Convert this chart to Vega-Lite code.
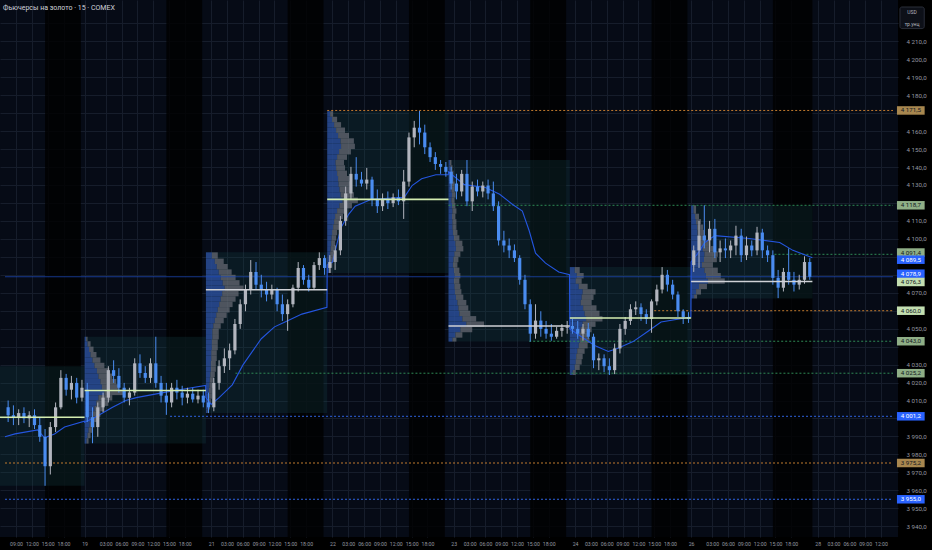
{
"$schema": "https://vega.github.io/schema/vega-lite/v6.json",
"width": 898, "height": 537,
"autosize": {"type": "none"},
"padding": {"left": 0, "top": 0, "right": 34, "bottom": 13},
"background": "#000000",
"config": {"view": {"fill": "#060b16", "stroke": null}, "font": "Roboto", "axis": {"labelOverlap": false, "labelFlush": false}},
"resolve": {"scale": {"color": "independent"}},
"title": {"text": "Фьючерсы на золото · 15 · COMEX", "anchor": "start", "orient": "top", "frame": "group", "offset": -11, "dx": 3, "fontSize": 7, "fontWeight": "normal", "color": "#d1d4dc", "font": "Roboto"},
"datasets": {
"bands": [{"a":-7.5,"b":-0.7},{"a":15.5,"b":22.3},{"a":38.5,"b":45.3},{"a":61.5,"b":68.3},{"a":84.5,"b":91.3},{"a":107.5,"b":114.3},{"a":130.5,"b":138}],
"boxes": [{"s":-23,"e":0,"lo":3962.5,"hi":4029.1},{"s":0,"e":23,"lo":3986.0,"hi":4045.5},{"s":23,"e":46,"lo":4003.0,"hi":4092.5},{"s":46,"e":69,"lo":4081.0,"hi":4171.1},{"s":69,"e":92,"lo":4042.8,"hi":4143.9},{"s":92,"e":115,"lo":4024.2,"hi":4084.3},{"s":115,"e":138,"lo":4066.8,"hi":4118.7}],
"pocs": [{"s":-23,"e":0,"p":4000.7,"k":"g"},{"s":0,"e":23,"p":4015.6,"k":"g"},{"s":23,"e":46,"p":4071.7,"k":"w"},{"s":46,"e":69,"p":4122.0,"k":"g"},{"s":69,"e":92,"p":4051.5,"k":"w"},{"s":92,"e":115,"p":4055.9,"k":"g"},{"s":115,"e":138,"p":4076.3,"k":"w"}],
"levels": [{"a":46,"b":153.28,"p":4171.5,"k":"o"},{"a":69,"b":153.28,"p":4118.7,"k":"g"},{"a":130.8,"b":153.28,"p":4091.4,"k":"g"},{"a":108,"b":153.28,"p":4060.0,"k":"o"},{"a":84.3,"b":153.28,"p":4043.0,"k":"g"},{"a":28.6,"b":153.28,"p":4025.2,"k":"g"},{"a":16.2,"b":153.28,"p":4001.2,"k":"b"},{"a":-15.094,"b":153.28,"p":3975.2,"k":"o"},{"a":-15.094,"b":153.28,"p":3955.0,"k":"b"}],
"tags": [{"p":4171.5,"txt":"4 171,5","k":"o"},{"p":4118.7,"txt":"4 118,7","k":"g"},{"p":4092.4,"txt":"4 091,4","k":"g"},{"p":4088.4,"txt":"4 089,5","k":"b"},{"p":4080.6,"txt":"4 078,9","k":"b"},{"p":4076.0,"txt":"4 076,3","k":"p"},{"p":4060.0,"txt":"4 060,0","k":"p"},{"p":4043.0,"txt":"4 043,0","k":"g"},{"p":4025.2,"txt":"4 025,2","k":"g"},{"p":4001.2,"txt":"4 001,2","k":"b"},{"p":3975.2,"txt":"3 975,2","k":"o"},{"p":3955.0,"txt":"3 955,0","k":"b"}],
"vwap": [
{"u":-15.1,"p":3989.8},{"u":-13.2,"p":3991.4},{"u":-8.9,"p":3993.6},{"u":-7.6,"p":3989.2},{"u":-5.7,"p":3991.4},{"u":-3.8,"p":3995.2},{"u":-0.05,"p":3998.5},
{"u":0,"p":3997.9},{"u":2,"p":4000.7},{"u":5.3,"p":4006.2},{"u":7.8,"p":4010.0},{"u":9.8,"p":4011.6},{"u":14.9,"p":4014.4},{"u":18,"p":4016.0},{"u":22.95,"p":4018.4},
{"u":23,"p":4011.6},{"u":24,"p":4007.8},{"u":25.5,"p":4011.6},{"u":28,"p":4018.7},{"u":30,"p":4029.7},{"u":33.5,"p":4044.4},{"u":36,"p":4051.0},{"u":38,"p":4053.7},{"u":41.2,"p":4058.1},{"u":45.95,"p":4061.9},
{"u":46,"p":4085.4},{"u":47,"p":4087.1},{"u":48.6,"p":4106.2},{"u":50.1,"p":4113.8},{"u":51.3,"p":4118.2},{"u":54.4,"p":4122.0},{"u":57.5,"p":4122.6},{"u":60.6,"p":4123.1},{"u":62.1,"p":4129.7},{"u":63.9,"p":4133.5},{"u":66.6,"p":4135.7},{"u":68.95,"p":4135.7},
{"u":69,"p":4137.3},{"u":72,"p":4130.2},{"u":76,"p":4128.6},{"u":78.7,"p":4124.8},{"u":81.1,"p":4119.3},{"u":83,"p":4115.5},{"u":84.3,"p":4104.5},{"u":85.5,"p":4092.0},{"u":87.4,"p":4086.5},{"u":89.9,"p":4081.6},{"u":91.95,"p":4080.0},
{"u":92,"p":4049.9},{"u":96.7,"p":4040.6},{"u":99.3,"p":4037.3},{"u":101,"p":4039.0},{"u":104,"p":4042.8},{"u":106.7,"p":4048.3},{"u":109.3,"p":4053.7},{"u":114.95,"p":4056.5},
{"u":115,"p":4087.1},{"u":116.3,"p":4092.0},{"u":117.6,"p":4098.0},{"u":119.5,"p":4101.8},{"u":126,"p":4100.2},{"u":131.8,"p":4098.0},{"u":134.3,"p":4093.6},{"u":138,"p":4089.5}],
"prof": [
{"s":0,"lo":3986,"hi":3989,"b":0.38,"g":0.75},{"s":0,"lo":3989,"hi":3992,"b":0.56,"g":1.13},{"s":0,"lo":3992,"hi":3995,"b":0.75,"g":1.5},{"s":0,"lo":3995,"hi":3998,"b":0.94,"g":1.88},{"s":0,"lo":3998,"hi":4001,"b":1.22,"g":2.44},{"s":0,"lo":4001,"hi":4004,"b":1.5,"g":3.0},{"s":0,"lo":4004,"hi":4007,"b":1.88,"g":3.75},{"s":0,"lo":4007,"hi":4010,"b":2.25,"g":4.5},{"s":0,"lo":4010,"hi":4013,"b":2.63,"g":5.25},{"s":0,"lo":4013,"hi":4016,"b":3.75,"g":7.5},{"s":0,"lo":4016,"hi":4019,"b":3.28,"g":6.56},{"s":0,"lo":4019,"hi":4022,"b":3.0,"g":6.0},{"s":0,"lo":4022,"hi":4025,"b":2.63,"g":5.25},{"s":0,"lo":4025,"hi":4028,"b":2.34,"g":4.69},{"s":0,"lo":4028,"hi":4031,"b":1.88,"g":3.75},{"s":0,"lo":4031,"hi":4034,"b":1.5,"g":3.0},{"s":0,"lo":4034,"hi":4037,"b":1.13,"g":2.25},{"s":0,"lo":4037,"hi":4040,"b":0.84,"g":1.69},{"s":0,"lo":4040,"hi":4043,"b":0.56,"g":1.13},{"s":0,"lo":4043,"hi":4045.5,"b":0.28,"g":0.56},
{"s":23,"lo":4003,"hi":4005,"b":23.28,"g":23.56},{"s":23,"lo":4005,"hi":4008,"b":23.38,"g":23.75},{"s":23,"lo":4008,"hi":4011,"b":23.47,"g":23.94},{"s":23,"lo":4011,"hi":4014,"b":23.56,"g":24.13},{"s":23,"lo":4014,"hi":4017,"b":23.56,"g":24.13},{"s":23,"lo":4017,"hi":4020,"b":23.66,"g":24.31},{"s":23,"lo":4020,"hi":4023,"b":23.75,"g":24.5},{"s":23,"lo":4023,"hi":4026,"b":23.84,"g":24.69},{"s":23,"lo":4026,"hi":4029,"b":23.94,"g":24.88},{"s":23,"lo":4029,"hi":4032,"b":23.94,"g":24.88},{"s":23,"lo":4032,"hi":4035,"b":24.03,"g":25.06},{"s":23,"lo":4035,"hi":4038,"b":24.03,"g":25.06},{"s":23,"lo":4038,"hi":4041,"b":24.13,"g":25.25},{"s":23,"lo":4041,"hi":4044,"b":24.13,"g":25.25},{"s":23,"lo":4044,"hi":4047,"b":24.22,"g":25.44},{"s":23,"lo":4047,"hi":4050,"b":24.22,"g":25.44},{"s":23,"lo":4050,"hi":4053,"b":24.41,"g":25.81},{"s":23,"lo":4053,"hi":4056,"b":24.69,"g":26.38},{"s":23,"lo":4056,"hi":4059,"b":24.97,"g":26.94},{"s":23,"lo":4059,"hi":4062,"b":25.25,"g":27.5},{"s":23,"lo":4062,"hi":4065,"b":25.53,"g":28.06},{"s":23,"lo":4065,"hi":4068,"b":25.81,"g":28.63},{"s":23,"lo":4068,"hi":4071,"b":26.09,"g":29.19},{"s":23,"lo":4071,"hi":4074,"b":26.56,"g":30.13},{"s":23,"lo":4074,"hi":4077,"b":26.19,"g":29.38},{"s":23,"lo":4077,"hi":4080,"b":25.81,"g":28.63},{"s":23,"lo":4080,"hi":4083,"b":25.44,"g":27.88},{"s":23,"lo":4083,"hi":4086,"b":25.06,"g":27.13},{"s":23,"lo":4086,"hi":4089,"b":24.69,"g":26.38},{"s":23,"lo":4089,"hi":4092.5,"b":24.13,"g":25.25},
{"s":46,"lo":4081,"hi":4084,"b":46.38,"g":46.75},{"s":46,"lo":4084,"hi":4087,"b":46.47,"g":46.94},{"s":46,"lo":4087,"hi":4090,"b":46.56,"g":47.13},{"s":46,"lo":4090,"hi":4093,"b":46.56,"g":47.13},{"s":46,"lo":4093,"hi":4096,"b":46.66,"g":47.31},{"s":46,"lo":4096,"hi":4099,"b":46.75,"g":47.5},{"s":46,"lo":4099,"hi":4102,"b":46.84,"g":47.69},{"s":46,"lo":4102,"hi":4105,"b":46.94,"g":47.88},{"s":46,"lo":4105,"hi":4108,"b":47.13,"g":48.25},{"s":46,"lo":4108,"hi":4111,"b":47.31,"g":48.63},{"s":46,"lo":4111,"hi":4114,"b":47.5,"g":49.0},{"s":46,"lo":4114,"hi":4117,"b":47.88,"g":49.75},{"s":46,"lo":4117,"hi":4120,"b":48.34,"g":50.69},{"s":46,"lo":4120,"hi":4123,"b":48.91,"g":51.81},{"s":46,"lo":4123,"hi":4126,"b":48.53,"g":51.06},{"s":46,"lo":4126,"hi":4129,"b":48.34,"g":50.69},{"s":46,"lo":4129,"hi":4132,"b":48.16,"g":50.31},{"s":46,"lo":4132,"hi":4135,"b":48.06,"g":50.13},{"s":46,"lo":4135,"hi":4138,"b":47.88,"g":49.75},{"s":46,"lo":4138,"hi":4141,"b":47.69,"g":49.38},{"s":46,"lo":4141,"hi":4144,"b":47.59,"g":49.19},{"s":46,"lo":4144,"hi":4147,"b":47.88,"g":49.75},{"s":46,"lo":4147,"hi":4150,"b":48.25,"g":50.5},{"s":46,"lo":4150,"hi":4153,"b":48.63,"g":51.25},{"s":46,"lo":4153,"hi":4156,"b":48.53,"g":51.06},{"s":46,"lo":4156,"hi":4159,"b":48.06,"g":50.13},{"s":46,"lo":4159,"hi":4162,"b":47.69,"g":49.38},{"s":46,"lo":4162,"hi":4165,"b":47.31,"g":48.63},{"s":46,"lo":4165,"hi":4168,"b":46.94,"g":47.88},{"s":46,"lo":4168,"hi":4171.1,"b":46.56,"g":47.13},
{"s":69,"lo":4042.8,"hi":4045,"b":69.75,"g":70.5},{"s":69,"lo":4045,"hi":4048,"b":70.31,"g":71.63},{"s":69,"lo":4048,"hi":4051,"b":71.25,"g":73.5},{"s":69,"lo":4051,"hi":4054,"b":72.38,"g":75.75},{"s":69,"lo":4054,"hi":4057,"b":71.63,"g":74.25},{"s":69,"lo":4057,"hi":4060,"b":71.06,"g":73.13},{"s":69,"lo":4060,"hi":4063,"b":70.88,"g":72.75},{"s":69,"lo":4063,"hi":4066,"b":70.69,"g":72.38},{"s":69,"lo":4066,"hi":4069,"b":70.41,"g":71.81},{"s":69,"lo":4069,"hi":4072,"b":70.22,"g":71.44},{"s":69,"lo":4072,"hi":4075,"b":70.13,"g":71.25},{"s":69,"lo":4075,"hi":4078,"b":70.03,"g":71.06},{"s":69,"lo":4078,"hi":4081,"b":70.13,"g":71.25},{"s":69,"lo":4081,"hi":4084,"b":70.03,"g":71.06},{"s":69,"lo":4084,"hi":4087,"b":69.84,"g":70.69},{"s":69,"lo":4087,"hi":4090,"b":69.94,"g":70.88},{"s":69,"lo":4090,"hi":4093,"b":70.13,"g":71.25},{"s":69,"lo":4093,"hi":4096,"b":70.41,"g":71.81},{"s":69,"lo":4096,"hi":4099,"b":70.31,"g":71.63},{"s":69,"lo":4099,"hi":4102,"b":70.03,"g":71.06},{"s":69,"lo":4102,"hi":4105,"b":69.84,"g":70.69},{"s":69,"lo":4105,"hi":4108,"b":69.75,"g":70.5},{"s":69,"lo":4108,"hi":4111,"b":69.75,"g":70.5},{"s":69,"lo":4111,"hi":4114,"b":69.66,"g":70.31},{"s":69,"lo":4114,"hi":4117,"b":69.75,"g":70.5},{"s":69,"lo":4117,"hi":4120,"b":69.66,"g":70.31},{"s":69,"lo":4120,"hi":4123,"b":69.56,"g":70.13},{"s":69,"lo":4123,"hi":4126,"b":69.66,"g":70.31},{"s":69,"lo":4126,"hi":4129,"b":69.56,"g":70.13},{"s":69,"lo":4129,"hi":4132,"b":69.56,"g":70.13},{"s":69,"lo":4132,"hi":4135,"b":69.47,"g":69.94},{"s":69,"lo":4135,"hi":4138,"b":69.47,"g":69.94},{"s":69,"lo":4138,"hi":4141,"b":69.38,"g":69.75},{"s":69,"lo":4141,"hi":4143.9,"b":69.28,"g":69.56},
{"s":92,"lo":4024.2,"hi":4027,"b":92.56,"g":93.13},{"s":92,"lo":4027,"hi":4030,"b":92.94,"g":93.88},{"s":92,"lo":4030,"hi":4033,"b":93.13,"g":94.25},{"s":92,"lo":4033,"hi":4036,"b":93.22,"g":94.44},{"s":92,"lo":4036,"hi":4039,"b":93.41,"g":94.81},{"s":92,"lo":4039,"hi":4042,"b":93.69,"g":95.38},{"s":92,"lo":4042,"hi":4045,"b":93.88,"g":95.75},{"s":92,"lo":4045,"hi":4048,"b":93.78,"g":95.56},{"s":92,"lo":4048,"hi":4051,"b":94.06,"g":96.13},{"s":92,"lo":4051,"hi":4054,"b":94.44,"g":96.88},{"s":92,"lo":4054,"hi":4057,"b":95.09,"g":98.19},{"s":92,"lo":4057,"hi":4060,"b":94.81,"g":97.63},{"s":92,"lo":4060,"hi":4063,"b":94.53,"g":97.06},{"s":92,"lo":4063,"hi":4066,"b":94.06,"g":96.13},{"s":92,"lo":4066,"hi":4069,"b":94.25,"g":96.5},{"s":92,"lo":4069,"hi":4072,"b":94.44,"g":96.88},{"s":92,"lo":4072,"hi":4075,"b":93.69,"g":95.38},{"s":92,"lo":4075,"hi":4078,"b":93.13,"g":94.25},{"s":92,"lo":4078,"hi":4081,"b":93.31,"g":94.63},{"s":92,"lo":4081,"hi":4084.3,"b":92.94,"g":93.88},
{"s":115,"lo":4066.8,"hi":4069,"b":115.56,"g":116.13},{"s":115,"lo":4069,"hi":4072,"b":115.94,"g":116.88},{"s":115,"lo":4072,"hi":4075,"b":116.5,"g":118.0},{"s":115,"lo":4075,"hi":4078,"b":118.19,"g":121.38},{"s":115,"lo":4078,"hi":4081,"b":117.81,"g":120.63},{"s":115,"lo":4081,"hi":4084,"b":117.53,"g":120.06},{"s":115,"lo":4084,"hi":4087,"b":117.06,"g":119.13},{"s":115,"lo":4087,"hi":4090,"b":117.44,"g":119.88},{"s":115,"lo":4090,"hi":4093,"b":117.53,"g":120.06},{"s":115,"lo":4093,"hi":4096,"b":117.25,"g":119.5},{"s":115,"lo":4096,"hi":4099,"b":116.88,"g":118.75},{"s":115,"lo":4099,"hi":4102,"b":116.41,"g":117.81},{"s":115,"lo":4102,"hi":4105,"b":116.22,"g":117.44},{"s":115,"lo":4105,"hi":4108,"b":116.13,"g":117.25},{"s":115,"lo":4108,"hi":4111,"b":115.94,"g":116.88},{"s":115,"lo":4111,"hi":4114,"b":115.75,"g":116.5},{"s":115,"lo":4114,"hi":4118.7,"b":115.47,"g":115.94}],
"cd": [
{"t":-14.5,"o":4006.2,"h":4010.0,"l":3998.0,"c":4001.8},{"t":-13.5,"o":4001.8,"h":4007.3,"l":3996.3,"c":4000.7},{"t":-12.5,"o":4000.7,"h":4005.1,"l":3996.3,"c":4003.0},{"t":-11.5,"o":4003.0,"h":4006.2,"l":3997.4,"c":4000.1},{"t":-10.5,"o":4000.1,"h":4004.0,"l":3995.2,"c":4001.8},{"t":-9.5,"o":4001.8,"h":4005.1,"l":3994.1,"c":3996.3},{"t":-8.5,"o":3996.3,"h":4000.7,"l":3987.0,"c":3989.8},{"t":-7.5,"o":3989.8,"h":3994.1,"l":3962.5,"c":3973.4},{"t":-6.5,"o":3973.4,"h":3998.0,"l":3968.8,"c":3995.2},{"t":-5.5,"o":3995.2,"h":4008.9,"l":3992.5,"c":4006.2},{"t":-4.5,"o":4006.2,"h":4026.9,"l":4005.1,"c":4022.6},{"t":-3.5,"o":4022.6,"h":4024.8,"l":4012.7,"c":4016.0},{"t":-2.5,"o":4016.0,"h":4023.7,"l":4010.6,"c":4019.8},{"t":-1.5,"o":4019.8,"h":4022.6,"l":4008.4,"c":4011.6},{"t":-0.5,"o":4011.6,"h":4021.5,"l":4009.5,"c":4017.1},
{"t":0.5,"o":4016.0,"h":4019.8,"l":3998.0,"c":4000.7},{"t":1.5,"o":4000.7,"h":4006.2,"l":3986.2,"c":3995.2},{"t":2.5,"o":3995.2,"h":4008.9,"l":3989.8,"c":4006.2},{"t":3.5,"o":4006.2,"h":4014.4,"l":4003.5,"c":4011.6},{"t":4.5,"o":4011.6,"h":4029.1,"l":4008.9,"c":4026.9},{"t":5.5,"o":4026.9,"h":4032.4,"l":4019.8,"c":4023.7},{"t":6.5,"o":4023.7,"h":4028.0,"l":4014.4,"c":4017.1},{"t":7.5,"o":4017.1,"h":4019.8,"l":4008.9,"c":4011.6},{"t":8.5,"o":4011.6,"h":4017.1,"l":4007.3,"c":4014.4},{"t":9.5,"o":4014.4,"h":4033.5,"l":4012.7,"c":4030.7},{"t":10.5,"o":4030.7,"h":4035.7,"l":4022.6,"c":4025.3},{"t":11.5,"o":4025.3,"h":4029.1,"l":4019.8,"c":4022.6},{"t":12.5,"o":4022.6,"h":4033.5,"l":4019.8,"c":4030.7},{"t":13.5,"o":4030.7,"h":4045.5,"l":4017.1,"c":4019.8},{"t":14.5,"o":4019.8,"h":4023.7,"l":4008.9,"c":4012.7},{"t":15.5,"o":4012.7,"h":4019.8,"l":4002.0,"c":4008.9},{"t":16.5,"o":4008.9,"h":4019.8,"l":4006.2,"c":4017.1},{"t":17.5,"o":4017.1,"h":4021.5,"l":4010.6,"c":4014.4},{"t":18.5,"o":4014.4,"h":4018.2,"l":4007.3,"c":4011.6},{"t":19.5,"o":4011.6,"h":4017.1,"l":4008.4,"c":4013.8},{"t":20.5,"o":4013.8,"h":4017.1,"l":4008.9,"c":4010.6},{"t":21.5,"o":4010.6,"h":4016.0,"l":4008.4,"c":4012.7},{"t":22.5,"o":4012.7,"h":4016.0,"l":4006.2,"c":4008.9},
{"t":23.5,"o":4008.9,"h":4014.4,"l":4003.0,"c":4006.2},{"t":24.5,"o":4006.2,"h":4022.6,"l":4004.0,"c":4019.8},{"t":25.5,"o":4019.8,"h":4032.4,"l":4016.0,"c":4029.1},{"t":26.5,"o":4029.1,"h":4039.0,"l":4025.3,"c":4033.5},{"t":27.5,"o":4033.5,"h":4041.7,"l":4027.0,"c":4037.9},{"t":28.5,"o":4037.9,"h":4055.4,"l":4035.7,"c":4052.6},{"t":29.5,"o":4052.6,"h":4066.3,"l":4049.9,"c":4063.6},{"t":30.5,"o":4063.6,"h":4074.5,"l":4059.7,"c":4071.8},{"t":31.5,"o":4071.8,"h":4088.2,"l":4069.0,"c":4081.6},{"t":32.5,"o":4081.6,"h":4087.1,"l":4071.8,"c":4074.5},{"t":33.5,"o":4074.5,"h":4080.0,"l":4067.4,"c":4071.8},{"t":34.5,"o":4071.8,"h":4076.1,"l":4065.2,"c":4069.0},{"t":35.5,"o":4069.0,"h":4074.5,"l":4066.3,"c":4071.8},{"t":36.5,"o":4071.8,"h":4072.8,"l":4059.7,"c":4063.6},{"t":37.5,"o":4063.6,"h":4069.0,"l":4054.3,"c":4058.1},{"t":38.5,"o":4058.1,"h":4066.3,"l":4048.8,"c":4063.6},{"t":39.5,"o":4063.6,"h":4074.5,"l":4061.9,"c":4072.8},{"t":40.5,"o":4072.8,"h":4087.1,"l":4070.7,"c":4083.8},{"t":41.5,"o":4083.8,"h":4085.4,"l":4074.5,"c":4077.2},{"t":42.5,"o":4077.2,"h":4080.0,"l":4070.7,"c":4072.8},{"t":43.5,"o":4072.8,"h":4087.1,"l":4071.8,"c":4085.4},{"t":44.5,"o":4085.4,"h":4092.5,"l":4082.7,"c":4089.3},{"t":45.5,"o":4089.3,"h":4090.9,"l":4080.0,"c":4083.8},
{"t":46.5,"o":4083.8,"h":4090.9,"l":4081.0,"c":4087.1},{"t":47.5,"o":4087.1,"h":4096.3,"l":4082.7,"c":4093.6},{"t":48.5,"o":4093.6,"h":4112.7,"l":4090.9,"c":4110.0},{"t":49.5,"o":4110.0,"h":4129.1,"l":4107.3,"c":4125.3},{"t":50.5,"o":4125.3,"h":4140.1,"l":4122.0,"c":4136.2},{"t":51.5,"o":4136.2,"h":4145.5,"l":4129.1,"c":4133.0},{"t":52.5,"o":4133.0,"h":4137.3,"l":4129.1,"c":4130.8},{"t":53.5,"o":4130.8,"h":4139.5,"l":4127.5,"c":4133.0},{"t":54.5,"o":4133.0,"h":4134.6,"l":4118.2,"c":4122.0},{"t":55.5,"o":4122.0,"h":4127.5,"l":4114.4,"c":4118.2},{"t":56.5,"o":4118.2,"h":4125.3,"l":4115.5,"c":4122.0},{"t":57.5,"o":4122.0,"h":4126.4,"l":4116.6,"c":4119.9},{"t":58.5,"o":4119.9,"h":4125.3,"l":4117.7,"c":4123.1},{"t":59.5,"o":4123.1,"h":4127.5,"l":4118.8,"c":4120.9},{"t":60.5,"o":4120.9,"h":4138.4,"l":4111.1,"c":4131.9},{"t":61.5,"o":4131.9,"h":4159.2,"l":4129.1,"c":4156.5},{"t":62.5,"o":4156.5,"h":4165.7,"l":4151.0,"c":4161.9},{"t":63.5,"o":4161.9,"h":4171.2,"l":4152.6,"c":4159.2},{"t":64.5,"o":4159.2,"h":4163.6,"l":4147.2,"c":4151.0},{"t":65.5,"o":4151.0,"h":4153.7,"l":4142.8,"c":4145.5},{"t":66.5,"o":4145.5,"h":4148.3,"l":4138.4,"c":4141.7},{"t":67.5,"o":4141.7,"h":4143.9,"l":4136.2,"c":4140.1},{"t":68.5,"o":4140.1,"h":4142.8,"l":4134.6,"c":4137.3},
{"t":69.5,"o":4137.3,"h":4140.1,"l":4127.5,"c":4130.8},{"t":70.5,"o":4130.8,"h":4136.2,"l":4122.0,"c":4126.4},{"t":71.5,"o":4126.4,"h":4138.4,"l":4123.7,"c":4136.2},{"t":72.5,"o":4136.2,"h":4143.9,"l":4118.2,"c":4120.9},{"t":73.5,"o":4120.9,"h":4131.9,"l":4115.5,"c":4129.1},{"t":74.5,"o":4129.1,"h":4133.0,"l":4123.7,"c":4126.4},{"t":75.5,"o":4126.4,"h":4131.9,"l":4123.1,"c":4129.7},{"t":76.5,"o":4129.7,"h":4133.0,"l":4122.0,"c":4125.3},{"t":77.5,"o":4125.3,"h":4131.9,"l":4115.5,"c":4118.2},{"t":78.5,"o":4118.2,"h":4120.9,"l":4096.3,"c":4099.1},{"t":79.5,"o":4099.1,"h":4104.5,"l":4092.5,"c":4096.3},{"t":80.5,"o":4096.3,"h":4100.2,"l":4089.3,"c":4093.6},{"t":81.5,"o":4093.6,"h":4096.9,"l":4087.1,"c":4089.3},{"t":82.5,"o":4089.3,"h":4090.9,"l":4074.5,"c":4077.2},{"t":83.5,"o":4077.2,"h":4080.0,"l":4060.8,"c":4063.6},{"t":84.5,"o":4063.6,"h":4066.3,"l":4042.8,"c":4047.2},{"t":85.5,"o":4047.2,"h":4063.6,"l":4044.4,"c":4054.5},{"t":86.5,"o":4054.5,"h":4059.7,"l":4045.5,"c":4049.9},{"t":87.5,"o":4049.9,"h":4054.3,"l":4044.4,"c":4047.2},{"t":88.5,"o":4047.2,"h":4052.6,"l":4043.3,"c":4045.5},{"t":89.5,"o":4045.5,"h":4051.0,"l":4044.4,"c":4048.8},{"t":90.5,"o":4048.8,"h":4052.6,"l":4045.5,"c":4050.5},{"t":91.5,"o":4050.5,"h":4054.3,"l":4047.2,"c":4051.0},
{"t":92.5,"o":4051.5,"h":4055.4,"l":4047.2,"c":4049.9},{"t":93.5,"o":4049.9,"h":4054.3,"l":4044.4,"c":4047.2},{"t":94.5,"o":4047.2,"h":4052.6,"l":4043.3,"c":4049.9},{"t":95.5,"o":4049.9,"h":4053.2,"l":4044.4,"c":4045.5},{"t":96.5,"o":4045.5,"h":4047.2,"l":4028.0,"c":4032.4},{"t":97.5,"o":4032.4,"h":4036.2,"l":4026.9,"c":4033.5},{"t":98.5,"o":4033.5,"h":4035.7,"l":4025.8,"c":4029.1},{"t":99.5,"o":4029.1,"h":4033.5,"l":4024.2,"c":4026.9},{"t":100.5,"o":4026.9,"h":4041.7,"l":4024.7,"c":4039.0},{"t":101.5,"o":4039.0,"h":4052.6,"l":4036.2,"c":4049.9},{"t":102.5,"o":4049.9,"h":4056.5,"l":4046.6,"c":4054.3},{"t":103.5,"o":4054.3,"h":4063.6,"l":4052.1,"c":4060.8},{"t":104.5,"o":4060.8,"h":4065.2,"l":4057.6,"c":4061.9},{"t":105.5,"o":4061.9,"h":4064.1,"l":4054.3,"c":4058.1},{"t":106.5,"o":4058.1,"h":4060.8,"l":4052.6,"c":4055.4},{"t":107.5,"o":4055.4,"h":4066.3,"l":4047.7,"c":4065.2},{"t":108.5,"o":4065.2,"h":4074.5,"l":4063.0,"c":4071.8},{"t":109.5,"o":4071.8,"h":4084.3,"l":4069.6,"c":4080.0},{"t":110.5,"o":4080.0,"h":4082.7,"l":4070.7,"c":4074.5},{"t":111.5,"o":4074.5,"h":4077.2,"l":4066.3,"c":4069.0},{"t":112.5,"o":4069.0,"h":4070.7,"l":4056.5,"c":4059.7},{"t":113.5,"o":4059.7,"h":4060.8,"l":4052.6,"c":4056.5},{"t":114.5,"o":4056.5,"h":4059.2,"l":4053.2,"c":4055.4},
{"t":115.5,"o":4085.4,"h":4096.3,"l":4081.6,"c":4093.6},{"t":116.5,"o":4093.6,"h":4110.0,"l":4083.8,"c":4101.8},{"t":117.5,"o":4101.8,"h":4118.7,"l":4094.7,"c":4099.1},{"t":118.5,"o":4099.1,"h":4110.0,"l":4092.5,"c":4105.6},{"t":119.5,"o":4105.6,"h":4111.1,"l":4089.3,"c":4092.5},{"t":120.5,"o":4092.5,"h":4099.1,"l":4087.1,"c":4094.7},{"t":121.5,"o":4094.7,"h":4100.2,"l":4089.3,"c":4093.6},{"t":122.5,"o":4093.6,"h":4099.1,"l":4089.3,"c":4096.3},{"t":123.5,"o":4096.3,"h":4107.3,"l":4090.9,"c":4101.8},{"t":124.5,"o":4101.8,"h":4105.6,"l":4087.1,"c":4090.9},{"t":125.5,"o":4090.9,"h":4101.3,"l":4088.2,"c":4096.3},{"t":126.5,"o":4096.3,"h":4099.1,"l":4090.3,"c":4093.6},{"t":127.5,"o":4093.6,"h":4106.7,"l":4090.9,"c":4103.5},{"t":128.5,"o":4103.5,"h":4105.6,"l":4089.3,"c":4093.6},{"t":129.5,"o":4093.6,"h":4096.3,"l":4087.1,"c":4090.9},{"t":130.5,"o":4090.9,"h":4093.6,"l":4074.5,"c":4078.3},{"t":131.5,"o":4078.3,"h":4082.7,"l":4067.0,"c":4072.8},{"t":132.5,"o":4072.8,"h":4083.8,"l":4070.7,"c":4081.6},{"t":133.5,"o":4081.6,"h":4094.7,"l":4074.5,"c":4077.2},{"t":134.5,"o":4077.2,"h":4081.6,"l":4070.7,"c":4074.5},{"t":135.5,"o":4074.5,"h":4080.0,"l":4071.8,"c":4077.2},{"t":136.5,"o":4077.2,"h":4090.3,"l":4075.0,"c":4087.1},{"t":137.5,"o":4087.1,"h":4089.3,"l":4077.2,"c":4078.9}]
},
"layer": [
{"data": {"name": "bands"}, "mark": {"type": "rect", "color": "#000000", "opacity": 0.8, "clip": true},
 "encoding": {
  "x": {"field": "a", "type": "quantitative", "scale": {"domain": [-15.094, 153.28], "nice": false, "zero": false},
   "axis": {"title": null, "tickCount": 500, "values": [-13,-10,-7,-4,0,4,7,10,13,16,19,24,27,30,33,36,39,42,47,50,53,56,59,62,65,70,73,76,79,82,85,88,93,96,99,102,105,108,111,115,119,122,125,128,131,134,139,142,145,148,151],
    "labelExpr": "datum.value==0?'19':datum.value==24?'21':datum.value==47?'22':datum.value==70?'23':datum.value==93?'24':datum.value==115?'26':datum.value==139?'28':(((((datum.value%23)+23)%23+23)%24<10?'0':'')+((((datum.value%23)+23)%23+23)%24)+':00')",
    "grid": true, "gridColor": "#161d2b", "gridWidth": 1, "ticks": false, "domain": false, "labelColor": "#9598a1", "labelFontSize": 5.2, "labelFont": "Roboto", "labelPadding": 4, "labelFlush": false, "labelOverlap": false}},
  "x2": {"field": "b"}}},
{"data": {"name": "boxes"}, "mark": {"type": "rect", "color": "#1b4a4f", "opacity": 0.24, "clip": true},
 "encoding": {
  "x": {"field": "s", "type": "quantitative", "title": null}, "x2": {"field": "e"},
  "y": {"field": "lo", "type": "quantitative", "scale": {"domain": [3936.78, 4230.22], "nice": false, "zero": false},
   "axis": {"title": null, "orient": "right", "tickCount": 500, "values": [3940,3950,3960,3970,3980,3990,4000,4010,4020,4030,4040,4050,4060,4070,4080,4090,4100,4110,4120,4130,4140,4150,4160,4170,4180,4190,4200,4210,4220],
    "labelExpr": "indexof([4220,4170,4120,4090,4080,4060,4040,4000], datum.value) >= 0 ? '' : replace(replace(format(datum.value, ',.1f'), ',', ' '), '.', ',')",
    "grid": true, "gridColor": "#161d2b", "gridWidth": 1, "ticks": false, "domain": false, "labelColor": "#9598a1", "labelFontSize": 6.2, "labelFont": "Roboto", "labelPadding": 8, "labelAlign": "left", "labelOverlap": false}},
  "y2": {"field": "hi"}}},
{"data": {"name": "prof"}, "mark": {"type": "rect", "color": "#2a4d9c", "opacity": 0.8, "clip": true},
 "encoding": {"x": {"field": "s", "type": "quantitative", "title": null}, "x2": {"field": "b"}, "y": {"field": "lo", "type": "quantitative", "title": null}, "y2": {"field": "hi"}}},
{"data": {"name": "prof"}, "mark": {"type": "rect", "color": "#6b6e78", "opacity": 0.7, "clip": true},
 "encoding": {"x": {"field": "b", "type": "quantitative", "title": null}, "x2": {"field": "g"}, "y": {"field": "lo", "type": "quantitative", "title": null}, "y2": {"field": "hi"}}},
{"data": {"values": [{"a": -15.094, "b": 153.28, "p": 4078.9}]}, "mark": {"type": "rule", "color": "#1d4ab8", "strokeWidth": 1, "opacity": 0.75, "clip": true},
 "encoding": {"x": {"field": "a", "type": "quantitative", "title": null}, "x2": {"field": "b"}, "y": {"field": "p", "type": "quantitative", "title": null}}},
{"data": {"name": "levels"}, "mark": {"type": "rule", "strokeWidth": 1, "strokeDash": [2, 2], "clip": true},
 "encoding": {"x": {"field": "a", "type": "quantitative", "title": null}, "x2": {"field": "b"}, "y": {"field": "p", "type": "quantitative", "title": null},
  "color": {"field": "k", "type": "nominal", "legend": null, "scale": {"domain": ["o", "g", "b"], "range": ["#c07a2e", "#2f8a55", "#2f63e0"]}}}},
{"data": {"name": "vwap"}, "mark": {"type": "line", "color": "#2456e0", "strokeWidth": 1.1, "clip": true},
 "encoding": {"x": {"field": "u", "type": "quantitative", "title": null}, "y": {"field": "p", "type": "quantitative", "title": null}}},
{"data": {"name": "cd"}, "mark": {"type": "rule", "strokeWidth": 1, "clip": true},
 "encoding": {"x": {"field": "t", "type": "quantitative", "title": null}, "y": {"field": "l", "type": "quantitative", "title": null}, "y2": {"field": "h"},
  "color": {"condition": {"test": "datum.c >= datum.o", "value": "#b2b5be"}, "value": "#4a8cf0"}}},
{"data": {"name": "cd"}, "mark": {"type": "bar", "size": 3.2, "clip": true},
 "encoding": {"x": {"field": "t", "type": "quantitative", "title": null}, "y": {"field": "o", "type": "quantitative", "title": null}, "y2": {"field": "c"},
  "color": {"condition": {"test": "datum.c >= datum.o", "value": "#b2b5be"}, "value": "#4a8cf0"}}},
{"data": {"name": "pocs"}, "mark": {"type": "rule", "strokeWidth": 1.6, "clip": true},
 "encoding": {"x": {"field": "s", "type": "quantitative", "title": null}, "x2": {"field": "e"}, "y": {"field": "p", "type": "quantitative", "title": null},
  "color": {"field": "k", "type": "nominal", "legend": null, "scale": {"domain": ["g", "w"], "range": ["#d4edb0", "#cfd1d6"]}}}},
{"data": {"name": "tags"}, "mark": {"type": "bar", "size": 8.5, "clip": false},
 "encoding": {"x": {"datum": 154.03}, "x2": {"datum": 159.28}, "y": {"field": "p", "type": "quantitative", "title": null},
  "color": {"field": "k", "type": "nominal", "legend": null, "scale": {"domain": ["o", "g", "p", "b"], "range": ["#a8874f", "#8fae86", "#c3deb0", "#2962ff"]}}}},
{"data": {"name": "tags"}, "mark": {"type": "text", "fontSize": 6.2, "font": "Roboto", "align": "center", "baseline": "middle", "clip": false},
 "encoding": {"x": {"datum": 156.66}, "y": {"field": "p", "type": "quantitative", "title": null}, "text": {"field": "txt"},
  "color": {"condition": {"test": "datum.k == 'b'", "value": "#ffffff"}, "value": "#131722"}}},
{"data": {"values": [{"n": 1}]}, "mark": {"type": "rect", "color": "#0d1018", "stroke": "#2a2e39", "strokeWidth": 1, "cornerRadius": 2, "clip": false},
 "encoding": {"x": {"datum": 154.6}, "x2": {"datum": 159.2}, "y": {"datum": 4229.1}, "y2": {"datum": 4217.1}}},
{"data": {"values": [{"t": "USD", "p": 4226.5}, {"t": "тр.унц", "p": 4219.9}]}, "mark": {"type": "text", "fontSize": 5, "font": "Roboto", "align": "center", "baseline": "middle", "color": "#b2b5be", "clip": false},
 "encoding": {"x": {"datum": 156.9}, "y": {"field": "p", "type": "quantitative", "title": null}, "text": {"field": "t"}}}
]
}
